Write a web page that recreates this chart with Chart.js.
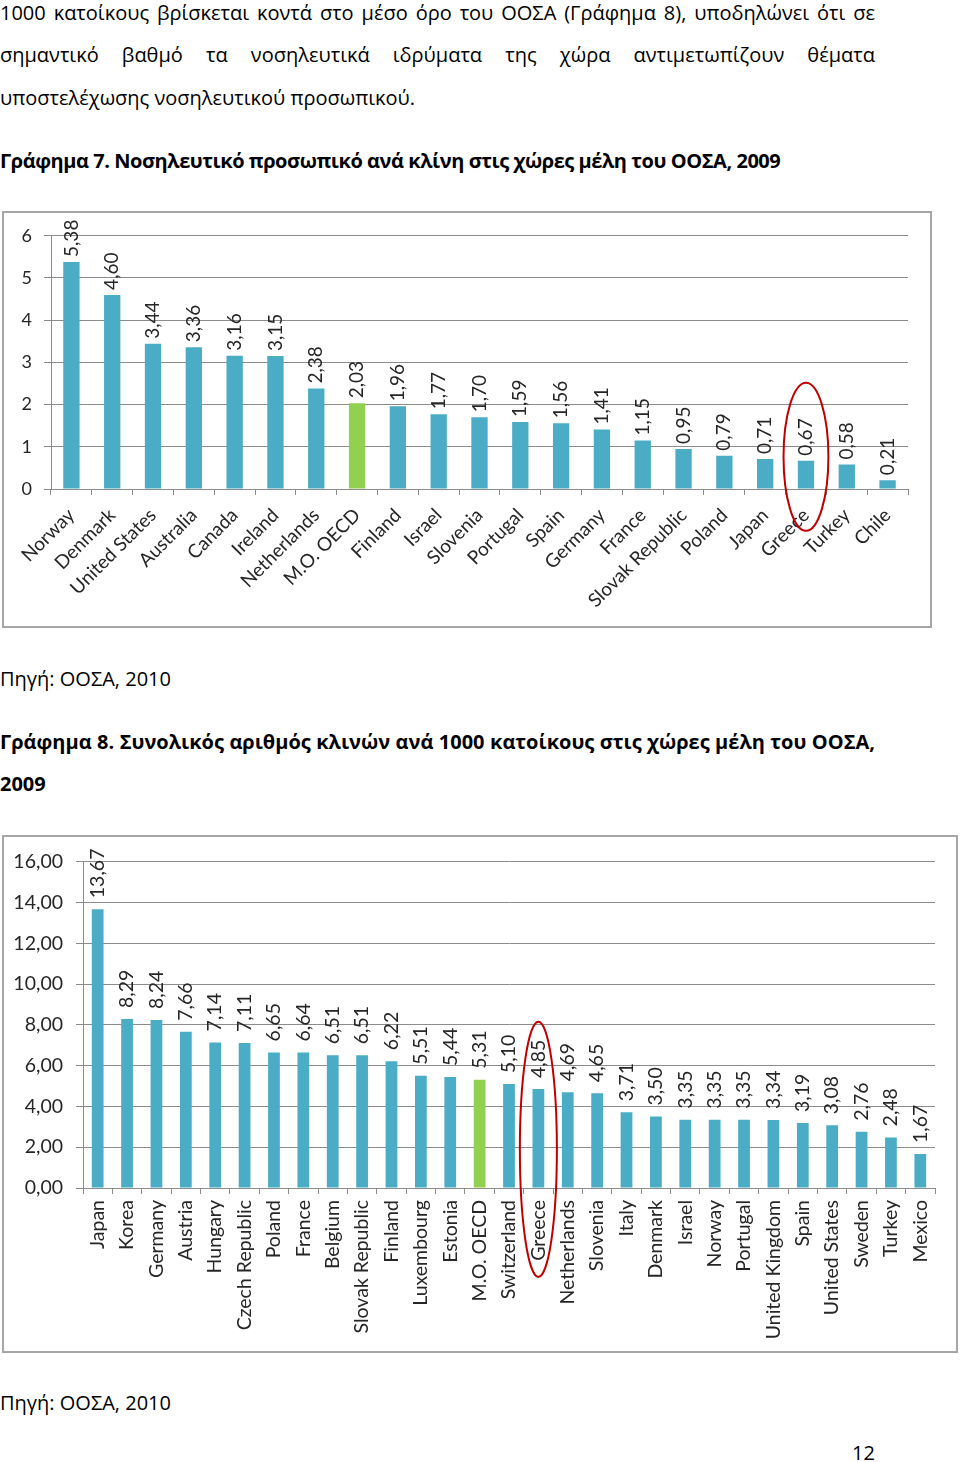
<!DOCTYPE html>
<html>
<head>
<meta charset="utf-8">
<script src="https://cdn.jsdelivr.net/npm/chart.js@4"></script>
<style>
  body { margin: 0; background: #fff; width: 960px; height: 1462px; position: relative;
         font-family: "Open Sans", sans-serif; color: #000; }
  .t { position: absolute; left: 0; font-size: 20px; line-height: 24px; white-space: nowrap; }
  .j { width: 875px; text-align: justify; text-align-last: justify; white-space: normal; }
  .b { font-weight: bold; }
  .box { position: absolute; left: 2px; border: 2px solid #a6a6a6; background: #fff; }
  .box div { position: relative; }
</style>
</head>
<body>
<div class="t j" style="top:1px">1000 κατοίκους βρίσκεται κοντά στο μέσο όρο του ΟΟΣΑ (Γράφημα 8), υποδηλώνει ότι σε</div>
<div class="t j" style="top:43px">σημαντικό βαθμό τα νοσηλευτικά ιδρύματα της χώρα αντιμετωπίζουν θέματα</div>
<div class="t" style="top:86px">υποστελέχωσης νοσηλευτικού προσωπικού.</div>
<div class="t b" style="top:149px;letter-spacing:-0.45px">Γράφημα 7. Νοσηλευτικό προσωπικό ανά κλίνη στις χώρες μέλη του ΟΟΣΑ, 2009</div>

<div class="box" style="top:211px;width:926px;height:413px">
  <div style="width:926px;height:413px"><canvas id="chart7"></canvas></div>
</div>

<div class="t" style="top:667px">Πηγή: ΟΟΣΑ, 2010</div>
<div class="t j b" style="top:730px">Γράφημα 8. Συνολικός αριθμός κλινών ανά 1000 κατοίκους στις χώρες μέλη του ΟΟΣΑ,</div>
<div class="t b" style="top:772px">2009</div>

<div class="box" style="top:835px;width:952px;height:514px">
  <div style="width:952px;height:514px"><canvas id="chart8"></canvas></div>
</div>

<div class="t" style="top:1391px">Πηγή: ΟΟΣΑ, 2010</div>
<div class="t" style="top:1441px;left:852px">12</div>

<script>
// Γράφημα 7: nursing staff per bed
const countries7 = ['Norway', 'Denmark', 'United States', 'Australia', 'Canada', 'Ireland',
  'Netherlands', 'M.O. OECD', 'Finland', 'Israel', 'Slovenia', 'Portugal', 'Spain', 'Germany',
  'France', 'Slovak Republic', 'Poland', 'Japan', 'Greece', 'Turkey', 'Chile'];
const values7 = [5.38, 4.60, 3.44, 3.36, 3.16, 3.15, 2.38, 2.03, 1.96, 1.77, 1.70, 1.59, 1.56,
  1.41, 1.15, 0.95, 0.79, 0.71, 0.67, 0.58, 0.21];

// Γράφημα 8: total beds per 1000 inhabitants
const countries8 = ['Japan', 'Korea', 'Germany', 'Austria', 'Hungary', 'Czech Republic', 'Poland',
  'France', 'Belgium', 'Slovak Republic', 'Finland', 'Luxembourg', 'Estonia', 'M.O. OECD',
  'Switzerland', 'Greece', 'Netherlands', 'Slovenia', 'Italy', 'Denmark', 'Israel', 'Norway',
  'Portugal', 'United Kingdom', 'Spain', 'United States', 'Sweden', 'Turkey', 'Mexico'];
const values8 = [13.67, 8.29, 8.24, 7.66, 7.14, 7.11, 6.65, 6.64, 6.51, 6.51, 6.22, 5.51, 5.44,
  5.31, 5.10, 4.85, 4.69, 4.65, 3.71, 3.50, 3.35, 3.35, 3.35, 3.34, 3.19, 3.08, 2.76, 2.48, 1.67];

const avgLabel = 'M.O. OECD';
const BLUE = '#4bacc6';
const GREEN = '#92d050';
const GRID = '#8c8c8c';
const FONT = 'Lato, "Open Sans", sans-serif';

const comma = v => v.toFixed(2).replace('.', ',');

// rotated value above each bar
const valueLabels = {
  id: 'valueLabels',
  afterDatasetsDraw(chart, args, opts) {
    const ctx = chart.ctx;
    const data = chart.data.datasets[0].data;
    ctx.save();
    ctx.font = opts.size + 'px ' + FONT;
    ctx.fillStyle = '#262626';
    ctx.textAlign = 'left';
    ctx.textBaseline = 'middle';
    chart.getDatasetMeta(0).data.forEach((bar, i) => {
      ctx.save();
      ctx.translate(bar.x, bar.y - opts.gap);
      ctx.rotate(-Math.PI / 2);
      ctx.fillText(comma(data[i]), 0, 0);
      ctx.restore();
    });
    ctx.restore();
  }
};

// red ring round Greece
const ring = {
  id: 'ring',
  afterDraw(chart, args, opts) {
    const xs = chart.scales.x, ys = chart.scales.y;
    const i = chart.data.labels.indexOf(opts.label);
    const cx = xs.getPixelForValue(i);
    const rx = xs.getPixelForValue(i + opts.halfWidth) - cx;
    const top = ys.getPixelForValue(opts.top);
    const bottom = ys.getPixelForValue(opts.bottom);
    const ctx = chart.ctx;
    ctx.save();
    ctx.strokeStyle = '#c00000';
    ctx.lineWidth = 2;
    ctx.beginPath();
    ctx.ellipse(cx, (top + bottom) / 2, rx, (bottom - top) / 2, 0, 0, Math.PI * 2);
    ctx.stroke();
    ctx.restore();
  }
};

function makeChart(id, labels, values, cfg) {
  return new Chart(document.getElementById(id), {
    type: 'bar',
    data: {
      labels: labels,
      datasets: [{
        data: values,
        backgroundColor: labels.map(c => c === avgLabel ? GREEN : BLUE),
        barPercentage: 0.8,
        categoryPercentage: 0.5
      }]
    },
    options: {
      responsive: true,
      maintainAspectRatio: false,
      animation: false,
      layout: { padding: { top: cfg.top, right: cfg.right, left: 0, bottom: 0 } },
      plugins: {
        legend: { display: false },
        tooltip: { enabled: false },
        valueLabels: { size: cfg.valueSize, gap: cfg.gap },
        ring: cfg.ring
      },
      scales: {
        x: {
          grid: { drawOnChartArea: false, drawTicks: true, tickLength: 6, color: GRID },
          border: { color: GRID },
          ticks: {
            autoSkip: false, maxRotation: cfg.rotation, minRotation: cfg.rotation,
            color: '#262626', font: { family: FONT, size: cfg.xSize }, padding: cfg.xPad
          },
          afterFit(s) { s.height = cfg.xHeight; }
        },
        y: {
          min: 0, max: cfg.max,
          grid: { color: GRID, tickLength: 7 },
          border: { color: GRID },
          ticks: {
            stepSize: cfg.step, color: '#262626', padding: cfg.yPad,
            font: { family: FONT, size: cfg.ySize },
            callback: cfg.yFormat
          },
          afterFit(s) { s.width = cfg.yWidth; }
        }
      }
    },
    plugins: [valueLabels, ring]
  });
}

makeChart('chart7', countries7, values7, {
  top: 20, right: 22, yWidth: 47, xHeight: 137, max: 6, step: 1, rotation: 45,
  xSize: 19, ySize: 18, valueSize: 19, gap: 5, xPad: 9, yPad: 12,
  yFormat: v => v,
  ring: { label: 'Greece', halfWidth: 0.55, top: 2.52, bottom: -0.99 }
});

makeChart('chart8', countries8, values8, {
  top: 15, right: 21, yWidth: 79, xHeight: 163, max: 16, step: 2, rotation: 90,
  xSize: 19.5, ySize: 19.5, valueSize: 19.5, gap: 11, xPad: 6, yPad: 13,
  yFormat: v => comma(v),
  ring: { label: 'Greece', halfWidth: 0.63, top: 8.15, bottom: -4.36 }
});
</script>
</body>
</html>
